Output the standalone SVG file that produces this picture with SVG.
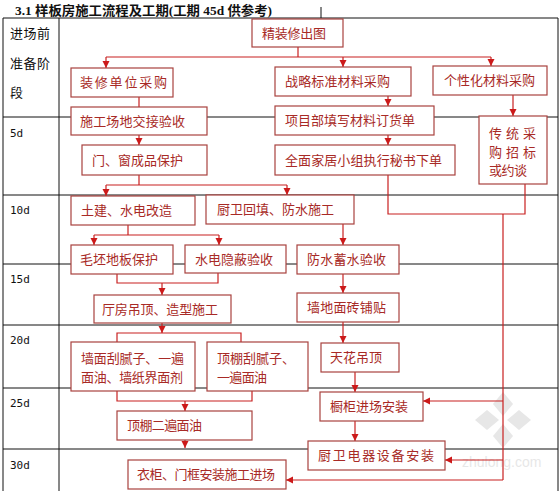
<svg xmlns="http://www.w3.org/2000/svg" width="560" height="491" viewBox="0 0 560 491">
<defs>
<marker id="ah" markerUnits="userSpaceOnUse" markerWidth="8" markerHeight="8" refX="7" refY="4" orient="auto">
<path d="M0,0.5 L7,4 L0,7.5 Z" fill="#cc1a1a"/>
</marker>
<style>
.grid{stroke:#111;stroke-width:1;fill:none}
.box rect{fill:#fff;stroke:#a8423e;stroke-width:1.2}
.box text,.lbl{font-family:"Noto Sans CJK SC","Noto Sans",sans-serif;font-size:13px;fill:#a82a26}
.day{font-family:"DejaVu Sans Mono","Liberation Mono",monospace;font-size:11px;fill:#111}
.side{font-family:"Noto Sans CJK SC",sans-serif;font-size:13px;fill:#111}
.c{stroke:#c82020;stroke-width:1.2;fill:none}
.a{stroke:#c82020;stroke-width:1.2;fill:none;marker-end:url(#ah)}
</style>
</defs>
<rect width="560" height="491" fill="#fff"/>
<text x="15" y="15" font-family="Liberation Serif,'Noto Sans CJK SC',serif" font-weight="bold" font-size="13" fill="#111" textLength="257" lengthAdjust="spacingAndGlyphs">3.1 样板房施工流程及工期(工期 45d 供参考)</text>

<g id="table">
<path class="grid" d="M321,7 V18 M3,18 H558 M3,18 V491 M558,18 V491 M59,18 V491 M3,117 H558 M3,195 H558 M3,264 H558 M3,325 H558 M3,388 H558 M3,449 H558"/>
<text class="side" x="10" y="38" textLength="40">进场前</text>
<text class="side" x="10" y="68" textLength="40">准备阶</text>
<text class="side" x="10" y="97">段</text>
<text class="day" x="10" y="137">5d</text>
<text class="day" x="10" y="214">10d</text>
<text class="day" x="10" y="283">15d</text>
<text class="day" x="10" y="344">20d</text>
<text class="day" x="10" y="407">25d</text>
<text class="day" x="10" y="469">30d</text>
</g>

<g id="watermark" opacity="0.35" fill="#bbb">
<path d="M503,392 L513,404 L503,416 L493,404 Z M503,448 L513,436 L503,424 L493,436 Z M475,420 L487,410 L499,420 L487,430 Z M531,420 L519,410 L507,420 L519,430 Z"/>
<text x="462" y="467" font-family="Liberation Sans,sans-serif" font-size="14">zhulong.com</text>
</g>

<g id="connectors">
<path class="c" d="M298,47 V57 M106,57 H491"/>
<path class="a" d="M106,57 V68"/>
<path class="a" d="M343,57 V67"/>
<path class="a" d="M491,57 V66"/>
<path class="c" d="M139,97 V107"/>
<path class="a" d="M388,96 V106"/>
<path class="a" d="M513,95 V116"/>
<path class="a" d="M139,135 V145"/>
<path class="a" d="M388,135 V145"/>
<path class="c" d="M139,175 V185 M106,185 H287"/>
<path class="a" d="M106,185 V196"/>
<path class="a" d="M287,185 V195"/>
<path class="c" d="M388,175 V214 H525 V184 M503,214 V480"/>
<path class="a" d="M503,401 H423"/>
<path class="a" d="M503,460 H445"/>
<path class="a" d="M503,480 H286"/>
<path class="c" d="M128,225 V235 M94,235 H219"/>
<path class="a" d="M94,235 V245"/>
<path class="a" d="M219,235 V245"/>
<path class="a" d="M343,224 V245"/>
<path class="c" d="M117,274 V283 H218 V273"/>
<path class="a" d="M162,283 V295"/>
<path class="a" d="M343,274 V293"/>
<path class="a" d="M162,323 V333"/>
<path class="c" d="M117,342 V333 H241 V342"/>
<path class="a" d="M343,322 V343"/>
<path class="a" d="M355,372 V392"/>
<path class="a" d="M355,421 V441"/>
<path class="c" d="M117,391 V401 H252 V391"/>
<path class="a" d="M185,401 V411"/>
<path class="a" d="M185,440 V448"/>
</g>

<g id="n1" class="box"><rect x="252" y="19" width="91" height="28"/><text x="262" y="38" textLength="64">精装修出图</text></g>
<g id="n2" class="box"><rect x="71" y="68" width="102" height="29"/><text x="80" y="87" textLength="87">装修单位采购</text></g>
<g id="n3" class="box"><rect x="275" y="67" width="136" height="29"/><text x="285" y="86" textLength="105">战略标准材料采购</text></g>
<g id="n4" class="box"><rect x="433" y="66" width="114" height="29"/><text x="444" y="85" textLength="91">个性化材料采购</text></g>
<g id="n5" class="box"><rect x="71" y="107" width="136" height="28"/><text x="80" y="126" textLength="105">施工场地交接验收</text></g>
<g id="n6" class="box"><rect x="275" y="106" width="159" height="29"/><text x="285" y="125" textLength="130">项目部填写材料订货单</text></g>
<g id="n7" class="box"><rect x="479" y="116" width="68" height="68"/><text x="489" y="138" textLength="47">传统采</text><text x="489" y="157" textLength="47">购招标</text><text x="489" y="175" textLength="38">或约谈</text></g>
<g id="n8" class="box"><rect x="82" y="145" width="125" height="30"/><text x="92" y="165" textLength="91">门、窗成品保护</text></g>
<g id="n9" class="box"><rect x="275" y="145" width="180" height="30"/><text x="285" y="165" textLength="157">全面家居小组执行秘书下单</text></g>
<g id="n10" class="box"><rect x="71" y="196" width="124" height="29"/><text x="81" y="215" textLength="91">土建、水电改造</text></g>
<g id="n11" class="box"><rect x="206" y="195" width="148" height="29"/><text x="217" y="214" textLength="117">厨卫回填、防水施工</text></g>
<g id="n12" class="box"><rect x="71" y="245" width="102" height="29"/><text x="80" y="264" textLength="78">毛坯地板保护</text></g>
<g id="n13" class="box"><rect x="185" y="245" width="101" height="28"/><text x="195" y="264" textLength="78">水电隐蔽验收</text></g>
<g id="n14" class="box"><rect x="297" y="245" width="102" height="29"/><text x="307" y="264" textLength="79">防水蓄水验收</text></g>
<g id="n15" class="box"><rect x="94" y="295" width="137" height="28"/><text x="102" y="314" textLength="116">厅房吊顶、造型施工</text></g>
<g id="n16" class="box"><rect x="297" y="293" width="102" height="29"/><text x="307" y="312" textLength="79">墙地面砖铺贴</text></g>
<g id="n17" class="box"><rect x="71" y="342" width="124" height="49"/><text x="81" y="363" textLength="103">墙面刮腻子、一遍</text><text x="81" y="382" textLength="102">面油、墙纸界面剂</text></g>
<g id="n18" class="box"><rect x="207" y="342" width="101" height="49"/><text x="217" y="363" textLength="78">顶棚刮腻子、</text><text x="217" y="382" textLength="50">一遍面油</text></g>
<g id="n19" class="box"><rect x="321" y="343" width="78" height="29"/><text x="330" y="362" textLength="52">天花吊顶</text></g>
<g id="n20" class="box"><rect x="320" y="392" width="103" height="29"/><text x="330" y="411" textLength="78">橱柜进场安装</text></g>
<g id="n21" class="box"><rect x="117" y="411" width="135" height="29"/><text x="127" y="430" textLength="75">顶棚二遍面油</text></g>
<g id="n22" class="box"><rect x="308" y="441" width="137" height="29"/><text x="318" y="460" textLength="116">厨卫电器设备安装</text></g>
<g id="n23" class="box"><rect x="128" y="460" width="158" height="29"/><text x="137" y="479" textLength="138">衣柜、门框安装施工进场</text></g>
</svg>
